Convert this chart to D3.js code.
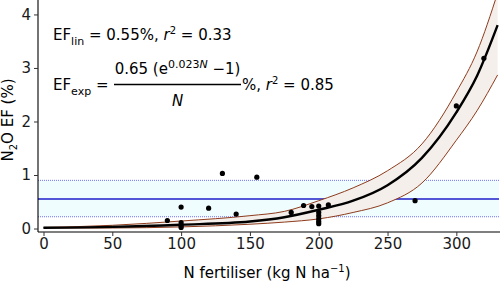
<!DOCTYPE html>
<html>
<head>
<meta charset="utf-8">
<script src="https://cdn.jsdelivr.net/npm/d3@7"></script>
<style>
  body { margin: 0; background: #fff; }
  svg text { font-family: "DejaVu Sans", "Liberation Sans", Arial, sans-serif; }
</style>
</head>
<body>
<div id="main"></div>
<script>
/* Data */
const pointN = [90, 100, 100, 100, 100, 120, 130, 140, 155, 180, 189, 195, 200, 200, 200, 200, 200, 200, 207, 270, 300, 320];
const pointEF = [0.15, 0.40, 0.11, 0.05, 0.02, 0.38, 1.03, 0.27, 0.96, 0.30, 0.43, 0.41, 0.42, 0.30, 0.24, 0.18, 0.13, 0.09, 0.44, 0.52, 2.29, 3.18];

const curveN = [0, 50, 100, 150, 175, 200, 225, 250, 275, 300, 315, 330];
const fitEF = [0.015, 0.03, 0.07, 0.13, 0.21, 0.35, 0.52, 0.81, 1.32, 2.17, 2.85, 3.8];
const upperEF = [0.02, 0.06, 0.14, 0.24, 0.32, 0.52, 0.76, 1.08, 1.58, 2.55, 3.3, 4.4];
const lowerEF = [0.01, 0.01, 0.03, 0.08, 0.12, 0.18, 0.30, 0.48, 0.85, 1.65, 2.2, 2.87];

const linEF = 0.55, linLow = 0.22, linHigh = 0.90;

const xTicks = [0, 50, 100, 150, 200, 250, 300];
const yTicks = [0, 1, 2, 3, 4];

/* Size */
const width = 500, height = 283;
const pLeft = 38, pRight = 499, pTop = 0, pBottom = 232;

const svg = d3.select("#main").append("svg").attr("width", width).attr("height", height);

const x = d3.scaleLinear().domain([-4, 331]).range([pLeft, pRight]);
const y = d3.scaleLinear().domain([-0.065, 4.27]).range([pBottom, pTop]);

svg.append("clipPath").attr("id", "clip")
  .append("rect").attr("x", pLeft).attr("y", pTop).attr("width", pRight - pLeft).attr("height", pBottom - pTop);

const plot = svg.append("g").attr("clip-path", "url(#clip)");

/* linear EF band */
plot.append("rect")
  .attr("x", pLeft).attr("width", pRight - pLeft)
  .attr("y", y(linHigh)).attr("height", y(linLow) - y(linHigh))
  .attr("fill", "#effdff");
[linLow, linHigh].forEach(v => {
  plot.append("line")
    .attr("x1", pLeft).attr("x2", pRight).attr("y1", y(v)).attr("y2", y(v))
    .attr("stroke", "#6f6ff5").attr("stroke-width", 1).attr("stroke-dasharray", "1,1");
});
plot.append("line")
  .attr("x1", pLeft).attr("x2", pRight).attr("y1", y(linEF)).attr("y2", y(linEF))
  .attr("stroke", "#1c1cc8").attr("stroke-width", 1.5);

/* exponential fit band */
const band = curveN.map((n, i) => ({ n: n, lo: lowerEF[i], hi: upperEF[i], fit: fitEF[i] }));
plot.append("path").datum(band)
  .attr("d", d3.area().x(d => x(d.n)).y0(d => y(d.lo)).y1(d => y(d.hi)).curve(d3.curveMonotoneX))
  .attr("fill", "#f4efea");
["lo", "hi"].forEach(k => {
  plot.append("path").datum(band)
    .attr("d", d3.line().x(d => x(d.n)).y(d => y(d[k])).curve(d3.curveMonotoneX))
    .attr("fill", "none").attr("stroke", "#8e3b1c").attr("stroke-width", 1);
});
plot.append("path").datum(band)
  .attr("d", d3.line().x(d => x(d.n)).y(d => y(d.fit)).curve(d3.curveMonotoneX))
  .attr("fill", "none").attr("stroke", "#000").attr("stroke-width", 2.4);

/* points */
plot.selectAll("circle.pt")
  .data(pointN.map((n, i) => [n, pointEF[i]]))
  .enter().append("circle")
  .attr("class", "pt")
  .attr("cx", d => x(d[0])).attr("cy", d => y(d[1])).attr("r", 2.6)
  .attr("fill", "#000");

/* axes */
const xAxis = svg.append("g").attr("transform", `translate(0,${pBottom})`)
  .call(d3.axisBottom(x).tickValues(xTicks).tickSize(4).tickPadding(2).tickSizeOuter(0));
const yAxis = svg.append("g").attr("transform", `translate(${pLeft},0)`)
  .call(d3.axisLeft(y).tickValues(yTicks).tickFormat(d3.format("d")).tickSize(4).tickPadding(3).tickSizeOuter(0));
[xAxis, yAxis].forEach(a => {
  a.select(".domain").attr("stroke", "#000").attr("stroke-width", 1.1);
  a.selectAll(".tick line").attr("stroke", "#333");
  a.selectAll(".tick text").attr("fill", "#1a1a1a")
    .style("font-size", "15px").style("font-family", "'DejaVu Sans', sans-serif");
});
xAxis.select(".domain").attr("d", `M${pLeft},0H${width}`);
yAxis.select(".domain").attr("d", `M0,${pBottom}V0`);

/* axis titles */
const xt = svg.append("text").attr("x", 267).attr("y", 278).attr("text-anchor", "middle")
  .style("font-size", "15px").attr("fill", "#000");
xt.append("tspan").text("N fertiliser (kg N ha");
xt.append("tspan").attr("dy", -6).style("font-size", "10px").text("\u22121");
xt.append("tspan").attr("dy", 6).text(")");

const yt = svg.append("text").attr("transform", "translate(12.5,120) rotate(-90)")
  .attr("text-anchor", "middle").style("font-size", "15px").attr("fill", "#000");
yt.append("tspan").text("N");
yt.append("tspan").attr("dy", 4).style("font-size", "10px").text("2");
yt.append("tspan").attr("dy", -4).text("O EF (%)");

/* equations */
const e1 = svg.append("text").attr("x", 53).attr("y", 40).style("font-size", "15px").attr("fill", "#000");
e1.append("tspan").text("EF");
e1.append("tspan").attr("dy", 5).style("font-size", "11px").text("lin");
e1.append("tspan").attr("dy", -5).text(" = 0.55%, ");
e1.append("tspan").style("font-style", "italic").text("r");
e1.append("tspan").attr("dy", -6).style("font-size", "10px").text("2");
e1.append("tspan").attr("dy", 6).text(" = 0.33");

const e2 = svg.append("text").attr("x", 53).attr("y", 90).style("font-size", "15px").attr("fill", "#000");
e2.append("tspan").text("EF");
e2.append("tspan").attr("dy", 5).style("font-size", "11px").text("exp");
e2.append("tspan").attr("dy", -5).text(" =");

const num = svg.append("text").attr("x", 177.5).attr("y", 74).attr("text-anchor", "middle")
  .style("font-size", "15px").attr("fill", "#000");
num.append("tspan").text("0.65 (e");
num.append("tspan").attr("dy", -6).style("font-size", "11px").text("0.023");
num.append("tspan").style("font-size", "11px").style("font-style", "italic").text("N");
num.append("tspan").attr("dy", 6).text(" \u22121)");

svg.append("line").attr("x1", 114).attr("x2", 241).attr("y1", 84.5).attr("y2", 84.5)
  .attr("stroke", "#000").attr("stroke-width", 1.3);

svg.append("text").attr("x", 177.5).attr("y", 106).attr("text-anchor", "middle")
  .style("font-size", "15px").style("font-style", "italic").text("N");

const e3 = svg.append("text").attr("x", 242).attr("y", 90).style("font-size", "15px").attr("fill", "#000");
e3.append("tspan").text("%, ");
e3.append("tspan").style("font-style", "italic").text("r");
e3.append("tspan").attr("dy", -6).style("font-size", "10px").text("2");
e3.append("tspan").attr("dy", 6).text(" = 0.85");
</script>
</body>
</html>
